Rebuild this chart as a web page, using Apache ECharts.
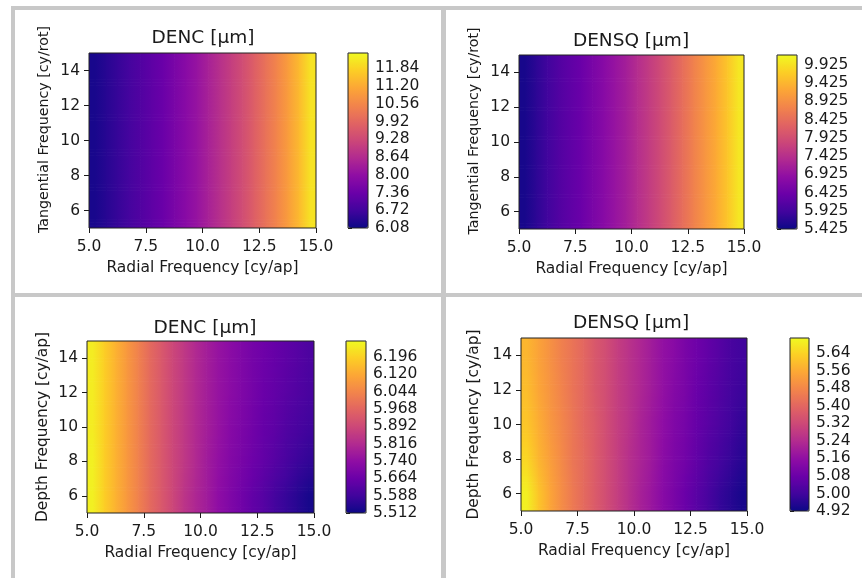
<!DOCTYPE html>
<html><head><meta charset="utf-8">
<script src="https://cdn.jsdelivr.net/npm/echarts@6/dist/echarts.min.js"></script>
<style>html,body{margin:0;padding:0;background:#fff}#chart{width:862px;height:578px}</style>
</head><body><div id="chart"></div>
<script>
// ---------- data ----------
const xCenters = [5.25,5.75,6.25,6.75,7.25,7.75,8.25,8.75,9.25,9.75,10.25,10.75,11.25,11.75,12.25,12.75,13.25,13.75,14.25,14.75];
const yCenters = [6, 8, 10, 12, 14];           // rows, bottom -> top
const yTicks = [6, 8, 10, 12, 14];

const titles = ['DENC [μm]', 'DENSQ [μm]', 'DENC [μm]', 'DENSQ [μm]'];
const xNames = ['Radial Frequency [cy/ap]', 'Radial Frequency [cy/ap]', 'Radial Frequency [cy/ap]', 'Radial Frequency [cy/ap]'];
const yNames = ['Tangential Frequency [cy/rot]', 'Tangential Frequency [cy/rot]', 'Depth Frequency [cy/ap]', 'Depth Frequency [cy/ap]'];

// DENC, radial x tangential
const dencTan = [
  [6.21,6.40,6.58,6.77,6.96,7.15,7.34,7.59,7.85,8.10,8.41,8.73,9.05,9.36,9.74,10.12,10.50,10.94,11.44,12.07],
  [6.21,6.40,6.58,6.77,6.96,7.15,7.34,7.59,7.85,8.10,8.41,8.73,9.05,9.36,9.74,10.12,10.50,10.94,11.44,12.07],
  [6.21,6.40,6.58,6.77,6.96,7.15,7.34,7.59,7.85,8.10,8.41,8.73,9.05,9.36,9.74,10.12,10.50,10.94,11.44,12.07],
  [6.21,6.40,6.58,6.77,6.96,7.15,7.34,7.59,7.85,8.10,8.41,8.73,9.05,9.36,9.74,10.12,10.50,10.94,11.44,12.07],
  [6.21,6.40,6.58,6.77,6.96,7.15,7.34,7.59,7.85,8.10,8.41,8.73,9.05,9.36,9.74,10.12,10.50,10.94,11.44,12.07]
];
// DENSQ, radial x tangential
const densqTan = [
  [5.52,5.71,5.90,6.09,6.24,6.38,6.57,6.76,6.95,7.14,7.38,7.62,7.86,8.14,8.43,8.72,9.00,9.29,9.62,10.00],
  [5.52,5.71,5.90,6.09,6.24,6.38,6.57,6.76,6.95,7.14,7.38,7.62,7.86,8.14,8.43,8.72,9.00,9.29,9.62,10.00],
  [5.52,5.71,5.90,6.09,6.24,6.38,6.57,6.76,6.95,7.14,7.38,7.62,7.86,8.14,8.43,8.72,9.00,9.29,9.62,10.00],
  [5.52,5.71,5.90,6.09,6.24,6.38,6.57,6.76,6.95,7.14,7.38,7.62,7.86,8.14,8.43,8.72,9.00,9.29,9.62,10.00],
  [5.52,5.71,5.90,6.09,6.24,6.38,6.57,6.76,6.95,7.14,7.38,7.62,7.86,8.14,8.43,8.72,9.00,9.29,9.62,10.00]
];
// DENC, radial x depth
const dencDepth = [
  [6.250,6.190,6.137,6.084,6.032,5.979,5.934,5.889,5.843,5.806,5.776,5.738,5.708,5.678,5.648,5.625,5.595,5.572,5.550,5.527],
  [6.250,6.190,6.137,6.084,6.032,5.979,5.934,5.889,5.851,5.813,5.776,5.745,5.715,5.693,5.670,5.648,5.625,5.602,5.580,5.565],
  [6.242,6.190,6.137,6.084,6.032,5.979,5.934,5.889,5.851,5.813,5.783,5.753,5.723,5.700,5.678,5.655,5.640,5.617,5.602,5.587],
  [6.242,6.190,6.137,6.084,6.032,5.979,5.934,5.889,5.851,5.813,5.783,5.753,5.730,5.708,5.685,5.663,5.648,5.632,5.617,5.602],
  [6.242,6.190,6.137,6.084,6.032,5.979,5.934,5.889,5.851,5.813,5.783,5.753,5.730,5.708,5.685,5.670,5.655,5.640,5.625,5.610]
];
// DENSQ, radial x depth
const densqDepth = [
  [5.694,5.615,5.552,5.497,5.449,5.410,5.370,5.331,5.291,5.252,5.212,5.181,5.141,5.110,5.078,5.046,5.015,4.983,4.960,4.936],
  [5.647,5.584,5.536,5.489,5.441,5.410,5.370,5.331,5.291,5.252,5.220,5.189,5.149,5.118,5.094,5.062,5.031,5.007,4.983,4.960],
  [5.615,5.568,5.520,5.481,5.441,5.402,5.370,5.331,5.291,5.260,5.220,5.189,5.157,5.125,5.102,5.070,5.046,5.023,4.999,4.975],
  [5.599,5.552,5.513,5.473,5.434,5.402,5.362,5.331,5.291,5.260,5.228,5.197,5.165,5.133,5.110,5.078,5.054,5.031,5.007,4.991],
  [5.584,5.544,5.505,5.465,5.434,5.402,5.362,5.331,5.291,5.260,5.228,5.197,5.165,5.141,5.110,5.086,5.062,5.039,5.015,4.999]
];

// colorbar ranges and tick labels
const cbRanges = [[6.08, 12.39], [5.425, 10.20], [5.512, 6.265], [4.92, 5.71]];
const cbTicks1 = [6.08,6.72,7.36,8.00,8.64,9.28,9.92,10.56,11.20,11.84];
const cbTicks2 = [5.425,5.925,6.425,6.925,7.425,7.925,8.425,8.925,9.425,9.925];
const cbTicks3 = [5.512,5.588,5.664,5.740,5.816,5.892,5.968,6.044,6.120,6.196];
const cbTicks4 = [4.92,5.00,5.08,5.16,5.24,5.32,5.40,5.48,5.56,5.64];
const cbDecimals = [2, 3, 3, 2];

// ---------- style / layout ----------
const fields = [dencTan, densqTan, dencDepth, densqDepth];
const cbTicks = [cbTicks1, cbTicks2, cbTicks3, cbTicks4];
const X_LIM = [5, 15], Y_LIM = [5, 15];
const plasma = ['#0d0887','#41049d','#6a00a8','#8f0da4','#b12a90','#cc4778','#e16462','#f2844b','#fca636','#fcce25','#f0f921'];
const FONT = 'DejaVu Sans';
const TXT = '#1a1a1a';
const TICK_FS = 15.5;
const layout = [
  {g:{left:89, top:53, width:227, height:175}, cb:{left:348, top:53, width:20, height:175}, tx:203, ty:29, yGap:38, yFs:14.2, yPad:22},
  {g:{left:519, top:55, width:225, height:174}, cb:{left:777, top:55, width:20, height:174}, tx:631, ty:32, yGap:38, yFs:14.2, yPad:22},
  {g:{left:87, top:341, width:227, height:172}, cb:{left:346, top:341, width:20, height:172}, tx:205, ty:319, yGap:37, yFs:15.4, yPad:0},
  {g:{left:521, top:338, width:226, height:173}, cb:{left:790, top:338, width:19, height:173}, tx:631, ty:314, yGap:40, yFs:15.4, yPad:0}
];

const grid = [], xAxis = [], yAxis = [], series = [], visualMap = [], title = [];
const axisLineStyle = {color: TXT, width: 1};
const labelStyle = {color: TXT, fontFamily: FONT, fontSize: TICK_FS};

layout.forEach(L => grid.push(Object.assign({show: true, borderColor: '#222', borderWidth: 1, backgroundColor: 'transparent', z: 10}, L.g)));
layout.forEach(L => grid.push(Object.assign({show: true, borderColor: '#222', borderWidth: 1, backgroundColor: 'transparent', z: 10}, L.cb)));

layout.forEach((L, i) => {
  title.push({text: titles[i], left: L.tx, top: L.ty, textAlign: 'center', padding: 0,
    textStyle: {fontFamily: FONT, fontSize: 18.5, fontWeight: 'normal', color: TXT}});
  xAxis.push({type: 'value', gridIndex: i, min: X_LIM[0], max: X_LIM[1], interval: 2.5,
    name: xNames[i], nameLocation: 'middle', nameGap: 32,
    nameTextStyle: {fontFamily: FONT, fontSize: 15.5, color: TXT},
    axisLine: {show: false}, splitLine: {show: false},
    axisTick: {show: true, inside: false, length: 5, lineStyle: axisLineStyle},
    axisLabel: Object.assign({margin: 11, formatter: v => v.toFixed(1), showMinLabel: true, showMaxLabel: true}, labelStyle)});
  yAxis.push({type: 'value', gridIndex: i, min: Y_LIM[0], max: Y_LIM[1],
    name: yNames[i], nameLocation: 'middle', nameGap: L.yGap,
    nameTextStyle: {fontFamily: FONT, fontSize: L.yFs, color: TXT, padding: [0, 0, 0, L.yPad]},
    axisLine: {show: false}, splitLine: {show: false},
    axisTick: {show: true, inside: false, length: 5, lineStyle: axisLineStyle, customValues: yTicks},
    axisLabel: Object.assign({margin: 9, customValues: yTicks, formatter: v => String(v)}, labelStyle)});
});
layout.forEach((L, i) => {
  const d = cbDecimals[i];
  xAxis.push({type: 'value', gridIndex: 4 + i, min: 0, max: 1, show: false});
  yAxis.push({type: 'value', gridIndex: 4 + i, position: 'right', min: cbRanges[i][0], max: cbRanges[i][1],
    axisLine: {show: false}, splitLine: {show: false},
    axisTick: {show: true, inside: false, length: 4, lineStyle: axisLineStyle, customValues: cbTicks[i]},
    axisLabel: Object.assign({margin: 7, customValues: cbTicks[i], formatter: v => v.toFixed(d)}, labelStyle)});
});

// smooth (gouraud-like) shading between the read grid nodes
function makeRender(lo, hi) {
  const col = v => echarts.color.lerp(Math.max(0, Math.min(1, (v - lo) / (hi - lo))), plasma);
  return function (params, api) {
    const x0 = api.value(0), y0 = api.value(1), x1 = api.value(2), y1 = api.value(3);
    const v00 = api.value(4), v10 = api.value(5), v01 = api.value(6), v11 = api.value(7);
    const pA = api.coord([x0, y1]);
    const pB = api.coord([x1, y0]);
    const W = pB[0] - pA[0], H = pB[1] - pA[1];
    const n = Math.max(1, Math.ceil(H / 3));
    const children = [];
    for (let k = 0; k < n; k++) {
      const t = (k + 0.5) / n;
      const vl = v01 + (v00 - v01) * t, vr = v11 + (v10 - v11) * t;
      children.push({type: 'rect',
        shape: {x: pA[0], y: pA[1] + H * k / n, width: W + 0.7, height: H / n + 0.7},
        style: {fill: new echarts.graphic.LinearGradient(0, 0, 1, 0, [{offset: 0, color: col(vl)}, {offset: 1, color: col(vr)}])}});
    }
    return {type: 'group', children};
  };
}

const xs = [X_LIM[0]].concat(xCenters, [X_LIM[1]]);
const ys = [Y_LIM[0]].concat(yCenters, [Y_LIM[1]]);
const ci = k => Math.max(0, Math.min(xCenters.length - 1, k - 1));
const ri = k => Math.max(0, Math.min(yCenters.length - 1, k - 1));

fields.forEach((F, i) => {
  const data = [];
  for (let r = 0; r < ys.length - 1; r++) {
    for (let j = 0; j < xs.length - 1; j++) {
      if (xs[j + 1] <= xs[j] || ys[r + 1] <= ys[r]) continue;
      data.push([xs[j], ys[r], xs[j + 1], ys[r + 1],
        F[ri(r)][ci(j)], F[ri(r)][ci(j + 1)], F[ri(r + 1)][ci(j)], F[ri(r + 1)][ci(j + 1)]]);
    }
  }
  series.push({type: 'custom', xAxisIndex: i, yAxisIndex: i, clip: true,
    renderItem: makeRender(cbRanges[i][0], cbRanges[i][1]),
    encode: {x: [0, 2], y: [1, 3]}, data: data, silent: true});
  const L = layout[i];
  visualMap.push({type: 'continuous', seriesIndex: i, dimension: 4, min: cbRanges[i][0], max: cbRanges[i][1],
    inRange: {color: plasma}, left: L.cb.left, top: L.cb.top, itemWidth: L.cb.width, itemHeight: L.cb.height,
    calculable: false, padding: 0, text: null, hoverLink: false, orient: 'vertical'});
});

const gray = '#c8c8c8';
const graphic = [
  {type: 'rect', shape: {x: 11, y: 6, width: 851, height: 4}, style: {fill: gray}, silent: true},
  {type: 'rect', shape: {x: 11, y: 6, width: 4, height: 572}, style: {fill: gray}, silent: true},
  {type: 'rect', shape: {x: 441, y: 6, width: 5, height: 572}, style: {fill: gray}, silent: true},
  {type: 'rect', shape: {x: 11, y: 293, width: 851, height: 4}, style: {fill: gray}, silent: true}
];

const chart = echarts.init(document.getElementById('chart'), null, {renderer: 'canvas'});
chart.setOption({animation: false, backgroundColor: '#fff', title, grid, xAxis, yAxis, series, visualMap, graphic});
</script></body></html>
